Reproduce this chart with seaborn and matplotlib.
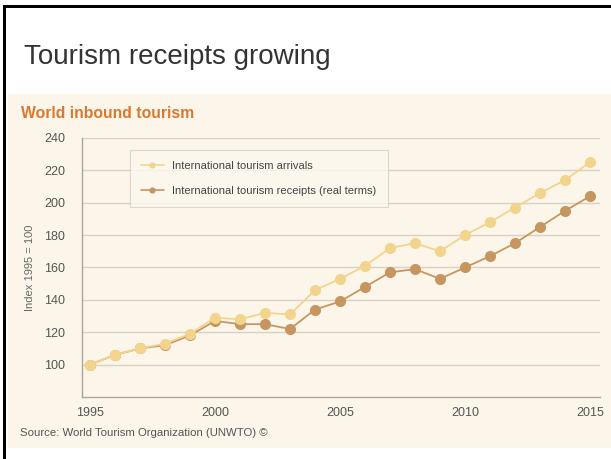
import matplotlib
matplotlib.use("Agg")
import matplotlib.pyplot as plt
import seaborn as sns
import pandas as pd
from matplotlib.patches import Rectangle
from matplotlib.lines import Line2D

# Data (index 1995 = 100)
years = list(range(1995, 2016))
arrivals = [100, 106, 110, 113, 119, 129, 128, 132, 131, 146, 153,
            161, 172, 175, 170, 180, 188, 197, 206, 214, 225]
receipts = [100, 106, 110, 112, 118, 127, 125, 125, 122, 134, 139,
            148, 157, 159, 153, 160, 167, 175, 185, 195, 204]
series_names = ["International tourism arrivals",
                "International tourism receipts (real terms)"]
x_ticks = [1995, 2000, 2005, 2010, 2015]
y_ticks = [100, 120, 140, 160, 180, 200, 220, 240]

df = pd.DataFrame({
    "year": years * 2,
    "index": arrivals + receipts,
    "series": [series_names[0]] * len(years) + [series_names[1]] * len(years),
})

yellow = "#F3D48C"
brown = "#C79660"
cream = "#FCF6EA"

sns.set_style("white")
plt.rcParams["font.family"] = ["Liberation Sans", "DejaVu Sans"]

W, H = 611, 459
fig = plt.figure(figsize=(W / 100, H / 100), dpi=100)
fig.patch.set_facecolor("white")

# cream panel + slide border
fig.patches.append(Rectangle((8 / W, 1 - 448 / H), 1, (448 - 94) / H,
                             transform=fig.transFigure, facecolor=cream,
                             edgecolor="none", zorder=-10))
fig.patches.append(Rectangle((3 / W, 0), 3 / W, 1 - 5 / H,
                             transform=fig.transFigure, facecolor="black",
                             edgecolor="none", zorder=10))
fig.patches.append(Rectangle((3 / W, 1 - 8 / H), 1, 3 / H,
                             transform=fig.transFigure, facecolor="black",
                             edgecolor="none", zorder=10))

ax = fig.add_axes([82 / W, 1 - 397 / H, (600 - 82) / W, (397 - 138) / H])
ax.set_facecolor(cream)

# receipts first so the arrivals line sits on top where they overlap
sns.lineplot(data=df, x="year", y="index", hue="series",
             palette=[brown, yellow], hue_order=series_names[::-1],
             marker="o", markersize=8, markeredgewidth=0, linewidth=1.3,
             ax=ax, legend=False, zorder=3)

ax.set_xlim(1994.68, 2015.4)
ax.set_ylim(80, 240)
ax.set_xticks(x_ticks)
ax.set_yticks(y_ticks)
ax.grid(axis="y", color="#d8d2c6", linewidth=1)
ax.grid(axis="x", visible=False)
for side in ["top", "right"]:
    ax.spines[side].set_visible(False)
for side in ["left", "bottom"]:
    ax.spines[side].set_color("#aaa49a")
    ax.spines[side].set_linewidth(1)
ax.tick_params(axis="both", length=0, labelsize=9, colors="#555555")
ax.tick_params(axis="x", pad=7)
ax.tick_params(axis="y", pad=12)
ax.set_xlabel("")
ax.set_ylabel("Index 1995 = 100", fontsize=8, color="#666666", labelpad=7)

handles = [Line2D([0], [0], color=c, marker="o", markersize=4.5,
                  markeredgewidth=0, linewidth=1.2) for c in [yellow, brown]]
leg = ax.legend(handles, series_names, loc="upper left",
                bbox_to_anchor=(0.093, 0.954), borderaxespad=0,
                fontsize=8, frameon=True, fancybox=False,
                handlelength=2.0, borderpad=1.0, labelspacing=1.35,
                handletextpad=0.8)
leg.get_frame().set_edgecolor("#d6cfc2")
leg.get_frame().set_facecolor("#FDF8EE")
leg.get_frame().set_linewidth(0.8)
for t in leg.get_texts():
    t.set_color("#444444")

fig.text(24 / W, 1 - 57 / H, "Tourism receipts growing", fontsize=20,
         color="#333333", va="center", ha="left")
fig.text(21 / W, 1 - 113 / H, "World inbound tourism", fontsize=11.3,
         fontweight="bold", color="#D9782E", va="center", ha="left")
fig.text(20 / W, 1 - 433 / H, "Source: World Tourism Organization (UNWTO) \u00a9",
         fontsize=8.2, color="#555555", va="center", ha="left")

fig.savefig("out.png", dpi=100)
